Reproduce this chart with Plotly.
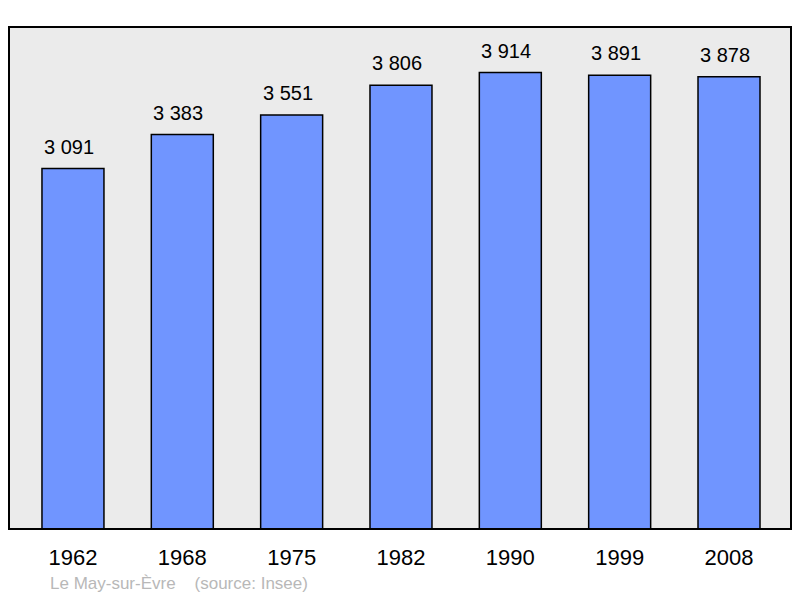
import plotly.graph_objects as go

years = ["1962", "1968", "1975", "1982", "1990", "1999", "2008"]
population = [3091, 3383, 3551, 3806, 3914, 3891, 3878]
labels = ["3 091", "3 383", "3 551", "3 806", "3 914", "3 891", "3 878"]

fig = go.Figure()
fig.add_trace(go.Bar(
    x=years, y=population, width=0.567,
    marker=dict(color="#7095ff", line=dict(color="#000000", width=1.5)),
    hoverinfo="skip",
))

annotations = [
    dict(x=i, y=val, text=lab, xref="x", yref="y", showarrow=False,
         yanchor="middle", yshift=22, xshift=-4,
         font=dict(size=20, color="#000000"))
    for i, (val, lab) in enumerate(zip(population, labels))
]
annotations.append(dict(text="Le May-sur-Èvre    (source: Insee)", xref="paper", yref="paper",
                        x=(48 - 9) / 782, y=-0.108, xanchor="left", yanchor="middle",
                        showarrow=False, font=dict(size=17, color="#b8b8b8")))

fig.update_layout(
    width=800, height=598,
    margin=dict(l=9, r=9, t=27, b=69, autoexpand=False),
    paper_bgcolor="#ffffff", plot_bgcolor="#ebebeb",
    showlegend=False,
    font=dict(family="Liberation Sans, Arial, sans-serif"),
    xaxis=dict(type="category", range=[-0.585, 6.567], showgrid=False, zeroline=False,
               ticks="outside", ticklen=9, tickcolor="rgba(0,0,0,0)",
               tickfont=dict(size=22, color="#000000"), automargin=False),
    yaxis=dict(range=[0, 4305], showgrid=False, zeroline=False, showticklabels=False,
               automargin=False),
    shapes=[dict(type="rect", xref="paper", yref="paper", x0=0, x1=1, y0=0, y1=1,
                 line=dict(color="#000000", width=2))],
    annotations=annotations,
)

fig.write_html("out.html", config={"displayModeBar": False},
               post_script="document.body.style.margin='0px';")
